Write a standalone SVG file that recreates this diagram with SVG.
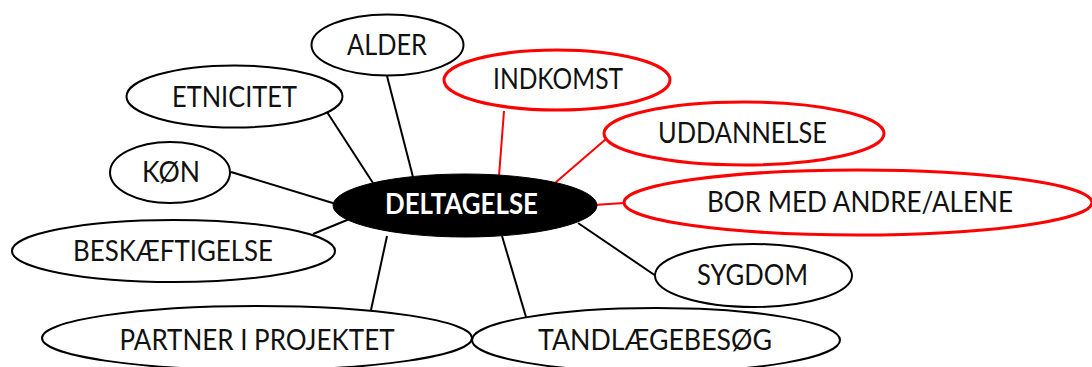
<svg xmlns="http://www.w3.org/2000/svg" width="1092" height="367" viewBox="0 0 1092 367">
  <style>
    .node { fill: #ffffff; stroke: #000000; stroke-width: 2; }
    .node.red { stroke: #ff0000; stroke-width: 3; }
    .hub { fill: #000000; stroke: #000000; stroke-width: 1; }
    .label { font-family: "Lato", "Liberation Sans", sans-serif; font-size: 28px; fill: #111111; text-anchor: middle; }
    .hub-label { font-family: "Lato", "Liberation Sans", sans-serif; font-size: 28px; font-weight: 700; fill: #ffffff; text-anchor: middle; }
    .link { stroke: #000000; stroke-width: 2; fill: none; }
    .link.red { stroke: #ff0000; }
  </style>
  <rect width="1092" height="367" fill="#ffffff"/>

  <!-- spokes from the central node -->
  <g id="connectors">
    <line class="link" x1="387" y1="76" x2="413" y2="177"/>
    <line class="link" x1="327" y1="112" x2="373" y2="183"/>
    <line class="link" x1="231" y1="172" x2="336" y2="204"/>
    <line class="link" x1="313" y1="234" x2="352" y2="218"/>
    <line class="link" x1="387" y1="236" x2="371" y2="310"/>
    <line class="link" x1="502" y1="236" x2="526" y2="317"/>
    <line class="link" x1="578" y1="223" x2="656" y2="276"/>
    <line class="link red" x1="504" y1="111" x2="499" y2="176"/>
    <line class="link red" x1="555" y1="183" x2="606" y2="139"/>
    <line class="link red" x1="594" y1="205" x2="624" y2="203"/>
  </g>

  <g id="node-alder">
    <ellipse class="node" cx="387.5" cy="45" rx="76" ry="30.5"/>
    <text class="label" x="387" y="55" textLength="80" lengthAdjust="spacingAndGlyphs">ALDER</text>
  </g>
  <g id="node-etnicitet">
    <ellipse class="node" cx="234.5" cy="96.5" rx="108" ry="31"/>
    <text class="label" x="234.5" y="107" textLength="125" lengthAdjust="spacingAndGlyphs">ETNICITET</text>
  </g>
  <g id="node-koen">
    <ellipse class="node" cx="170" cy="172.5" rx="60" ry="30.5"/>
    <text class="label" x="171" y="182" textLength="58" lengthAdjust="spacingAndGlyphs">KØN</text>
  </g>
  <g id="node-beskaeftigelse">
    <ellipse class="node" cx="173.5" cy="251" rx="161.5" ry="31"/>
    <text class="label" x="173" y="261" textLength="200" lengthAdjust="spacingAndGlyphs">BESKÆFTIGELSE</text>
  </g>
  <g id="node-partner">
    <ellipse class="node" cx="257" cy="338" rx="215" ry="32"/>
    <text class="label" x="257" y="350" textLength="275" lengthAdjust="spacingAndGlyphs">PARTNER I PROJEKTET</text>
  </g>
  <g id="node-tandlaegebesoeg">
    <ellipse class="node" cx="656" cy="340" rx="184" ry="32"/>
    <text class="label" x="655" y="350" textLength="234" lengthAdjust="spacingAndGlyphs">TANDLÆGEBESØG</text>
  </g>
  <g id="node-sygdom">
    <ellipse class="node" cx="753.5" cy="275.5" rx="98.5" ry="31.5"/>
    <text class="label" x="752.5" y="285" textLength="111" lengthAdjust="spacingAndGlyphs">SYGDOM</text>
  </g>
  <g id="node-indkomst">
    <ellipse class="node red" cx="557" cy="80" rx="113" ry="30"/>
    <text class="label" x="558" y="89" textLength="130" lengthAdjust="spacingAndGlyphs">INDKOMST</text>
  </g>
  <g id="node-uddannelse">
    <ellipse class="node red" cx="744" cy="133.5" rx="140" ry="31.5"/>
    <text class="label" x="742.5" y="143" textLength="169" lengthAdjust="spacingAndGlyphs">UDDANNELSE</text>
  </g>
  <g id="node-bor-med">
    <ellipse class="node red" cx="858" cy="202.5" rx="234" ry="32.5"/>
    <text class="label" x="860" y="212" textLength="306" lengthAdjust="spacingAndGlyphs">BOR MED ANDRE/ALENE</text>
  </g>
  <g id="node-deltagelse">
    <ellipse class="hub" cx="465" cy="205.5" rx="132" ry="31.5"/>
    <text class="hub-label" x="461.5" y="214" textLength="153" lengthAdjust="spacingAndGlyphs">DELTAGELSE</text>
  </g>
</svg>
